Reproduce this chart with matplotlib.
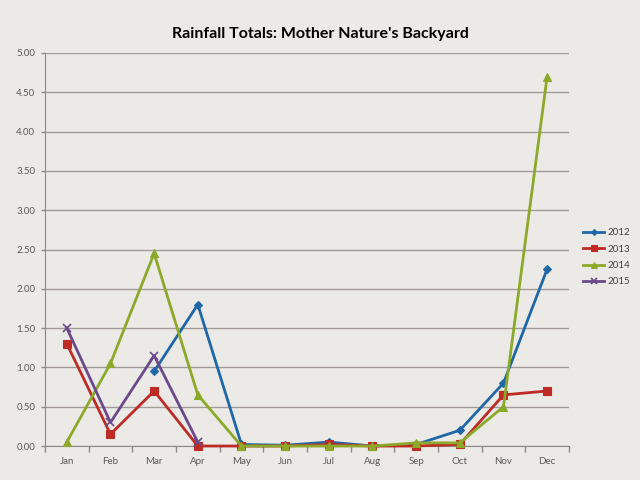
import matplotlib.pyplot as plt
import numpy as np
from matplotlib.ticker import FixedLocator

# Monthly rainfall (inches)
months = ["Jan", "Feb", "Mar", "Apr", "May", "Jun",
          "Jul", "Aug", "Sep", "Oct", "Nov", "Dec"]
rain_2012 = [None, None, 0.95, 1.80, 0.02, 0.01, 0.05, 0.00, 0.02, 0.20, 0.80, 2.25]
rain_2013 = [1.30, 0.15, 0.70, 0.00, 0.00, 0.00, 0.02, 0.00, 0.00, 0.02, 0.65, 0.70]
rain_2014 = [0.05, 1.05, 2.45, 0.65, 0.00, 0.00, 0.00, 0.00, 0.04, 0.04, 0.50, 4.70]
rain_2015 = [1.50, 0.30, 1.15, 0.05]

bg = "#ECEAE7"
plt.rcParams['font.family'] = ['Lato', 'DejaVu Sans']

fig = plt.figure(figsize=(6.4, 4.8), dpi=100, facecolor=bg)
ax = fig.add_axes([0.0703, 0.0708, 0.8187, 0.8188], facecolor=bg)

def series(vals):
    x = np.arange(len(vals))
    y = np.array([np.nan if v is None else v for v in vals], dtype=float)
    return x, y

styles = [
    ("2012", rain_2012, "#1F67A6", "D", 4),
    ("2013", rain_2013, "#BE2B25", "s", 5.5),
    ("2014", rain_2014, "#8CA92A", "^", 5.5),
    ("2015", rain_2015, "#6B4A8C", "x", 6),
]
for label, vals, col, mk, ms in styles:
    x, y = series(vals)
    ax.plot(x, y, color=col, lw=2.0, marker=mk, markersize=ms,
            markeredgewidth=1.2 if mk == "x" else 0.8, markeredgecolor=col,
            markerfacecolor=col, label=label, zorder=3, clip_on=False)

ax.set_xlim(-0.5, 11.5)
ax.set_ylim(0, 5)
ax.set_yticks(np.arange(0, 5.01, 0.5))
ax.set_yticklabels([f"{v:.2f}" for v in np.arange(0, 5.01, 0.5)])
ax.set_xticks(range(12))
ax.set_xticklabels(months)
ax.xaxis.set_minor_locator(FixedLocator(np.arange(-0.5, 12, 1)))
ax.tick_params(axis='x', which='major', length=0, pad=8, labelsize=7, labelcolor="#595959")
ax.tick_params(axis='x', which='minor', length=4, color="#8E8986", width=1)
ax.tick_params(axis='y', length=3, color="#8E8986", width=1, pad=4, labelsize=7, labelcolor="#595959")

ax.grid(axis='y', color="#A09B98", lw=1)
ax.set_axisbelow(True)
for s in ["top", "right"]:
    ax.spines[s].set_visible(False)
ax.spines["left"].set_color("#8E8986")
ax.spines["bottom"].set_color("#8E8986")
ax.spines["bottom"].set_zorder(2.5)

fig.text(0.5, 0.930, "Rainfall Totals: Mother Nature's Backyard",
         ha='center', va='center', fontsize=11.5, fontweight='bold', color="#000000")

leg = ax.legend(loc='center left', bbox_to_anchor=(1.01, 0.48), frameon=False,
                fontsize=7, handlelength=2.2, labelspacing=0.75, handletextpad=0.3,
                markerscale=0.75)
for t in leg.get_texts():
    t.set_color("#404040")

fig.savefig("out.png", dpi=100, facecolor=bg)
